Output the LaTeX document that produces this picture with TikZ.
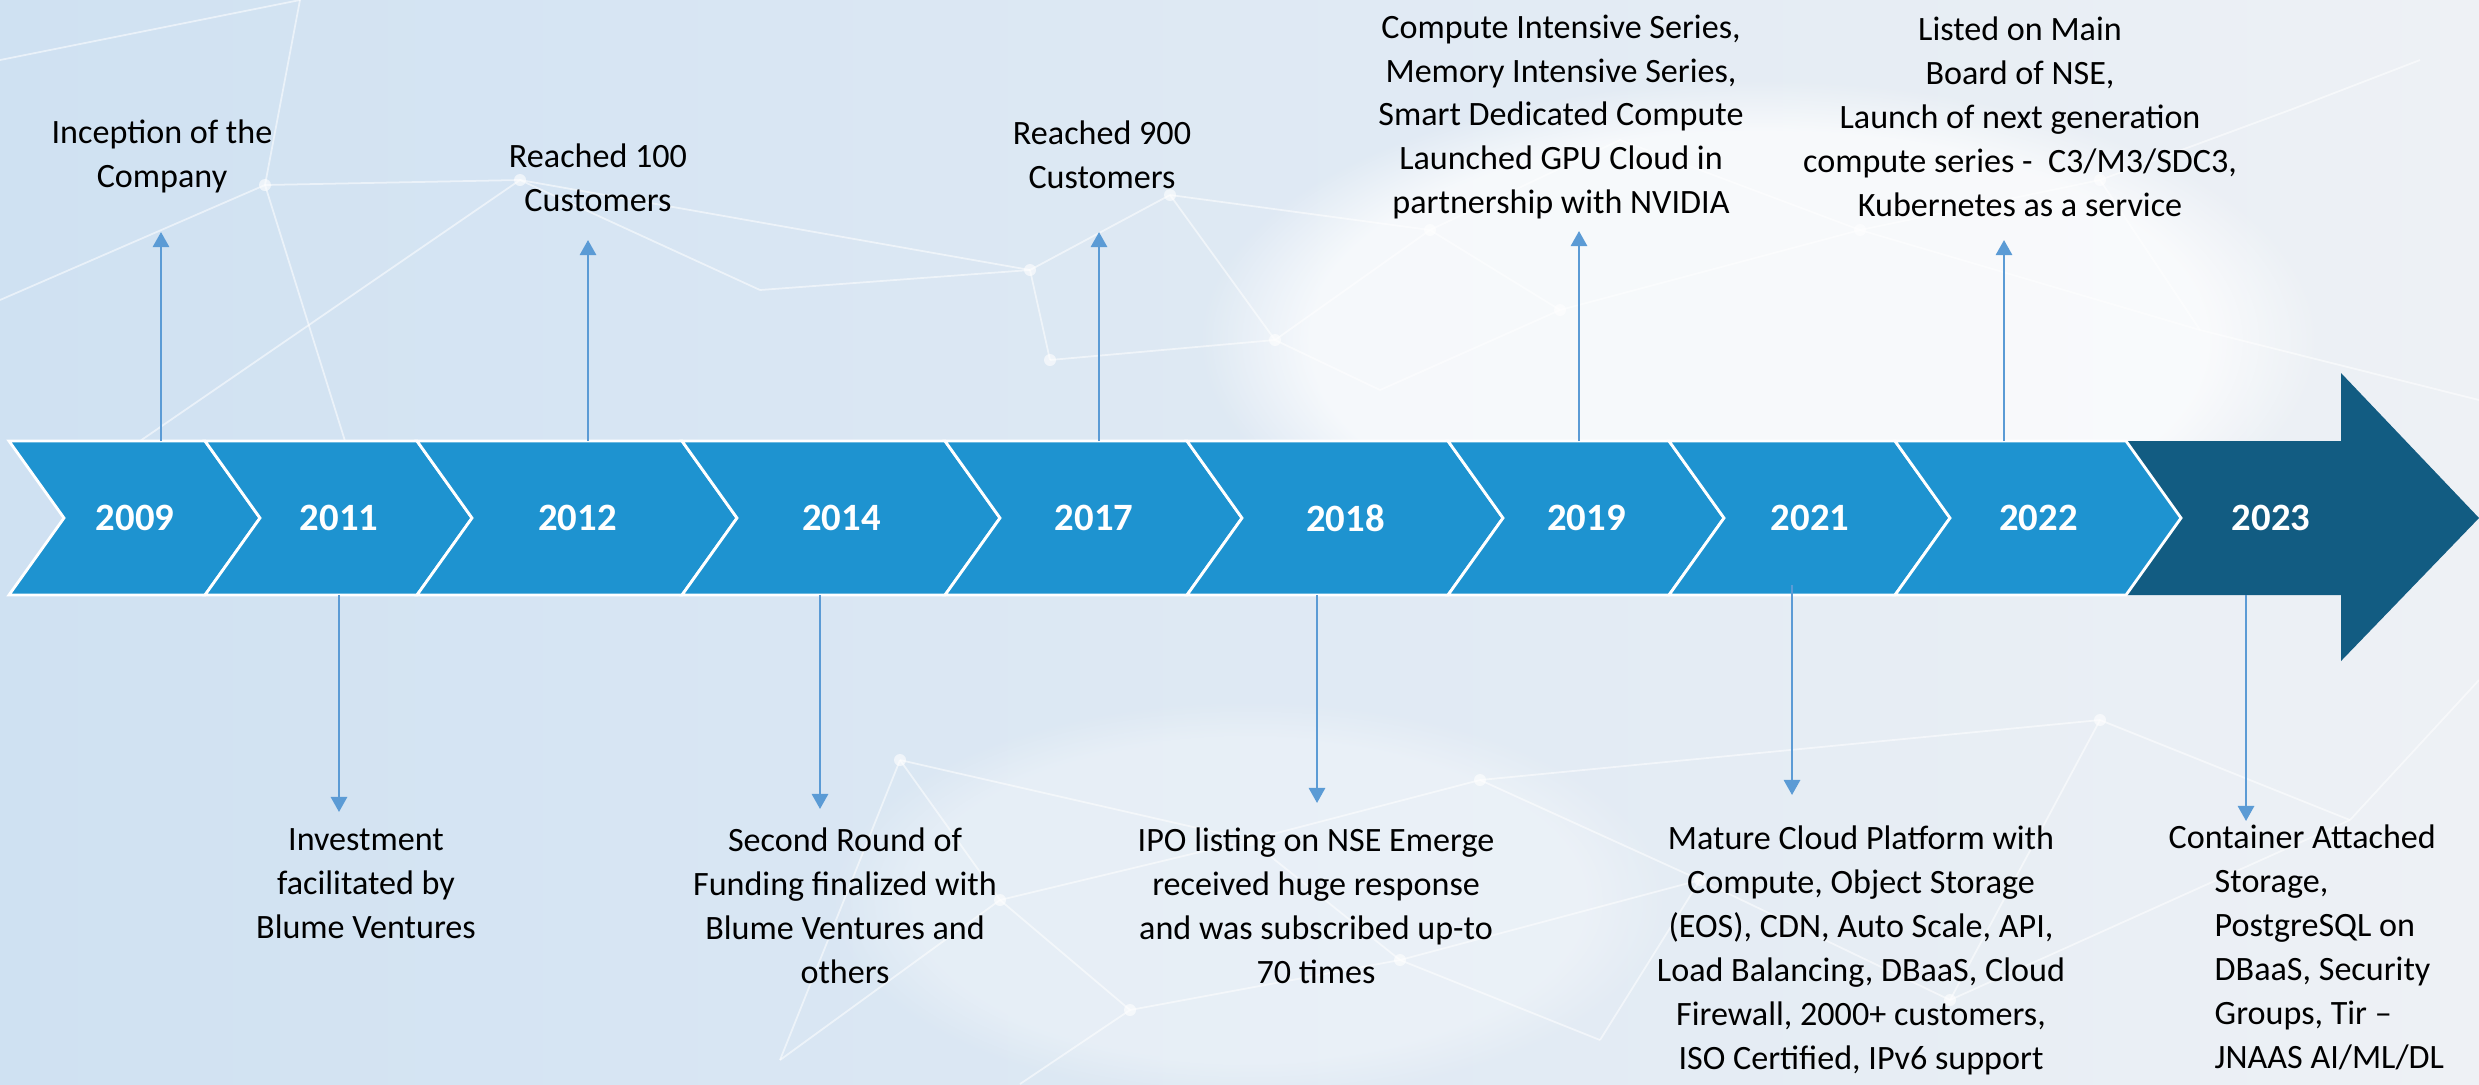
\documentclass[tikz,border=0pt]{standalone}
\usepackage{fontspec}
\setmainfont{Carlito}
\usepackage{tikz}
\usetikzlibrary{arrows.meta,calc,fadings,positioning}
\definecolor{chevblue}{HTML}{1E93D0}
\definecolor{chevdark}{HTML}{125C82}
\definecolor{pinblue}{HTML}{5B9BD5}
\definecolor{skyA}{HTML}{CFE1F2}
\definecolor{skyB}{HTML}{EEF1F5}
\tikzset{
	chev/.style={fill=chevblue,draw=white,line width=0.8pt,line join=miter},
	chev end/.style={fill=chevdark},
	year label/.style={text=white,inner sep=0pt,
		font=\fontsize{11}{13}\selectfont\bfseries},
	mile label/.style={align=center,inner sep=0pt,
		font=\fontsize{9.7}{12.5}\selectfont},
	pin/.style={draw=pinblue,line width=0.75pt,
		-{Triangle[width=4.6pt,length=4.3pt]}},
	web/.style={draw=white,opacity=0.55,line width=0.5pt},
	knot/.style={fill=white,opacity=0.6}
}

\begin{document}
\begin{tikzpicture}[x=0.01cm,y=-0.01cm]
	\useasboundingbox (0,0) rectangle (2479,1084);
	% backdrop
	\fill[left color=skyA,right color=skyB] (0,0) rectangle (2479,1084);
	\fill[white,opacity=0.7,path fading=circle with fuzzy edge 20 percent]
		(1760,340) ellipse (560 and 260);
	\fill[white,opacity=0.3,path fading=circle with fuzzy edge 20 percent]
		(1250,900) ellipse (420 and 200);
	\foreach \n/\x/\y in {A/265/185,B/760/290,C/520/180,D/1030/270,E/1170/195,
			F/1275/340,G/1430/230,H/1560/310,I/1620/140,J/1860/230,K/2100/180,
			L/2290/110,M/2420/60,N/2200/330,O/1380/390,P/1050/360,
			Q/900/760,R/1000/900,S/1130/1010,T/1250/840,U/1400/960,V/1480/780,
			W/1600/1040,X/1700/880,Y/1950/1000,Z/2100/720,AA/2350/820,
			AB/780/1060,AC/1020/1084,AD/2479/680,AE/0/300,AF/345/441,AG/140/441,
			AH/2479/400,AI/0/60,AJ/300/0}
		\coordinate (w\n) at (\x,\y);
	\foreach \p/\q in {A/C,A/AE,A/AF,C/AG,C/D,C/B,B/D,D/E,D/P,E/F,E/G,P/F,F/O,
			F/G,G/H,G/I,H/J,I/J,J/K,K/L,L/M,K/N,J/N,N/AH,O/H,AI/AJ,AJ/A,
			Q/R,R/S,R/T,T/U,T/V,U/S,U/W,V/X,X/W,X/Y,Y/Z,Z/AA,AA/AD,Q/T,S/AC,
			AB/R,Q/AB,V/Z,Y/AA,X/U}
		\draw[web] (w\p) -- (w\q);
	\foreach \n in {A,C,D,E,F,G,H,J,K,P,Q,R,S,T,U,V,X,Y,Z}
		\fill[knot] (w\n) circle (6);

	% band of years
	\fill[chev end] (2126,441) -- (2341,441) -- (2341,373) -- (2479,518)
		-- (2341,661) -- (2341,595) -- (2126,595) -- (2181,518) -- cycle;
	\node[year label] (y2023) at (2271,518) {2023};
	\foreach \l/\r/\yr in {9/205/2009,205/417/2011,417/682/2012,682/945/2014,
			945/1187/2017,1187/1448/2018,1448/1669/2019,1669/1895/2021,1895/2126/2022}{
		\draw[chev] (\l,441) -- (\r,441) -- (\r+55,518) -- (\r,595)
			-- (\l,595) -- (\l+55,518) -- cycle;
		\node[year label] (y\yr) at ({(\l+\r)/2+28},518) {\yr};
	}

	% milestones above
	\node[mile label] (m2009) at (162,156) {Inception of the\\Company};
	\node[mile label] (m2012) at (598,178) {Reached 100\\Customers};
	\node[mile label] (m2017) at (1102,155) {Reached 900\\Customers};
	\node[mile label] (m2019) at (1561,117) {Compute Intensive Series,\\
		Memory Intensive Series,\\Smart Dedicated Compute\\
		Launched GPU Cloud in\\partnership with NVIDIA};
	\node[mile label] (m2022) at (2020,117) {Listed on Main\\Board of NSE,\\
		Launch of next generation\\compute series -~ C3/M3/SDC3,\\
		Kubernetes as a service};
	% milestones below
	\node[mile label] (m2011) at (366,884) {Investment\\facilitated by\\Blume Ventures};
	\node[mile label] (m2014) at (845,906) {Second Round of\\
		Funding finalized with\\Blume Ventures and\\others};
	\node[mile label] (m2018) at (1316,906) {IPO listing on NSE Emerge\\
		received huge response\\and was subscribed up-to\\70 times};
	\node[mile label] (m2021) at (1861,950) {Mature Cloud Platform with\\
		Compute, Object Storage\\(EOS), CDN, Auto Scale, API,\\
		Load Balancing, DBaaS, Cloud\\Firewall, 2000+ customers,\\
		ISO Certified, IPv6 support};
	\node[mile label,align=left,anchor=north west] (m2023) at (2214,824)
		{\hspace*{-0.46cm}Container Attached\\Storage,\\PostgreSQL on\\
		DBaaS, Security\\Groups, Tir –\\JNAAS AI/ML/DL};

	% pins
	\foreach \yr/\x/\a/\b in {2009/161/441/232,2012/588/441/240,2017/1099/441/232,
			2019/1579/441/231,2022/2004/441/240,2011/339/595/812,2014/820/595/809,
			2018/1317/595/803,2021/1792/585/795,2023/2246/595/821}{
		\coordinate (b\yr) at (\x,\a);
		\coordinate (t\yr) at (\x,\b);
		\draw[pin] (b\yr) -- (t\yr);
	}
\end{tikzpicture}
\end{document}
